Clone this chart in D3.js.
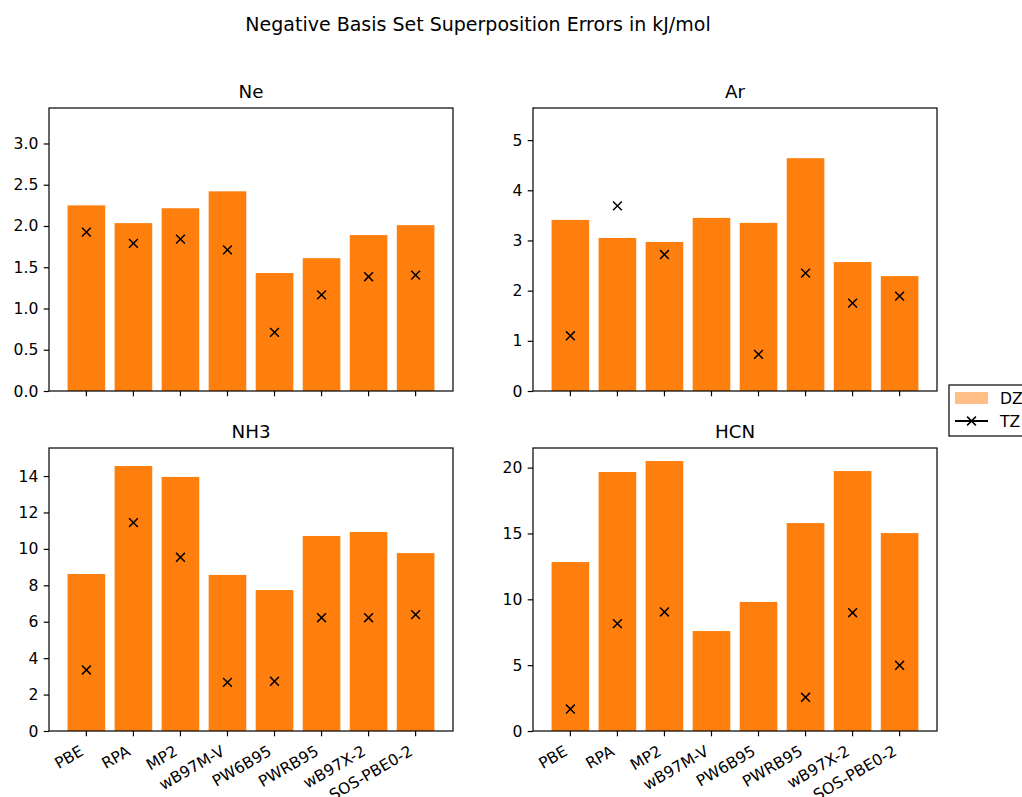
<!DOCTYPE html>
<html>
<head>
<meta charset="utf-8">
<script src="https://cdn.jsdelivr.net/npm/d3@7"></script>
<style>
body { margin: 0; background: #fff; }
svg { font-family: "DejaVu Sans", sans-serif; }
</style>
</head>
<body>
<svg id="chart" width="1022" height="797"></svg>
<script>
// methods on the x axis
var methods = ["PBE", "RPA", "MP2", "wB97M-V", "PW6B95", "PWRB95", "wB97X-2", "SOS-PBE0-2"];

// DZ bars and TZ crosses, per system (null = no TZ point)
var neDZ = [2.25, 2.035, 2.215, 2.42, 1.43, 1.61, 1.89, 2.01];
var neTZ = [1.925, 1.79, 1.84, 1.71, 0.71, 1.165, 1.385, 1.405];
var arDZ = [3.41, 3.05, 2.97, 3.45, 3.35, 4.64, 2.57, 2.29];
var arTZ = [1.10, 3.69, 2.72, null, 0.73, 2.35, 1.75, 1.89];
var nh3DZ = [8.62, 14.55, 13.95, 8.57, 7.74, 10.71, 10.93, 9.77];
var nh3TZ = [3.35, 11.44, 9.54, 2.67, 2.73, 6.22, 6.22, 6.39];
var hcnDZ = [12.83, 19.67, 20.5, 7.59, 9.80, 15.79, 19.74, 15.03];
var hcnTZ = [1.67, 8.15, 9.04, null, null, 2.56, 8.98, 4.99];

// y tick values per panel
var neTicks = [0.0, 0.5, 1.0, 1.5, 2.0, 2.5, 3.0];
var arTicks = [0, 1, 2, 3, 4, 5];
var nh3Ticks = [0, 2, 4, 6, 8, 10, 12, 14];
var hcnTicks = [0, 5, 10, 15, 20];

var svg = d3.select("#chart");
var barColor = "#ff7f0e";
var tickFont = "15.6px";

svg.append("text")
  .attr("x", 478).attr("y", 31)
  .attr("text-anchor", "middle")
  .attr("font-size", "19px")
  .text("Negative Basis Set Superposition Errors in kJ/mol");

var panels = [
  {title: "Ne", dz: neDZ, tz: neTZ, ticks: neTicks, ymax: 3.43, fmt: d3.format(".1f"), left: 49, top: 108, labels: false},
  {title: "Ar", dz: arDZ, tz: arTZ, ticks: arTicks, ymax: 5.64, fmt: d3.format("d"), left: 533, top: 108, labels: false},
  {title: "NH3", dz: nh3DZ, tz: nh3TZ, ticks: nh3Ticks, ymax: 15.54, fmt: d3.format("d"), left: 49, top: 448, labels: true},
  {title: "HCN", dz: hcnDZ, tz: hcnTZ, ticks: hcnTicks, ymax: 21.49, fmt: d3.format("d"), left: 533, top: 448, labels: true}
];

var pw = 404, ph = 283;

panels.forEach(function(p) {
  var g = svg.append("g").attr("transform", "translate(" + p.left + "," + p.top + ")");

  var x = d3.scaleBand()
    .domain(methods)
    .range([0, pw])
    .paddingInner(0.2)
    .paddingOuter(0.395);

  var y = d3.scaleLinear()
    .domain([0, p.ymax])
    .range([ph, 0]);

  g.selectAll("rect.bar")
    .data(p.dz)
    .enter()
    .append("rect")
    .attr("class", "bar")
    .attr("x", function(d, i) { return x(methods[i]); })
    .attr("width", x.bandwidth())
    .attr("y", function(d) { return y(d); })
    .attr("height", function(d) { return ph - y(d); })
    .attr("fill", barColor);

  // TZ crosses
  var s = 4.4;
  var tzPts = p.tz.map(function(d, i) { return {v: d, m: methods[i]}; })
    .filter(function(d) { return d.v !== null; });
  g.selectAll("path.tz")
    .data(tzPts)
    .enter()
    .append("path")
    .attr("class", "tz")
    .attr("d", function(d) {
      var cx = x(d.m) + x.bandwidth() / 2, cy = y(d.v);
      return "M" + (cx - s) + "," + (cy - s) + "L" + (cx + s) + "," + (cy + s) +
             "M" + (cx - s) + "," + (cy + s) + "L" + (cx + s) + "," + (cy - s);
    })
    .attr("stroke", "black")
    .attr("stroke-width", 1.5)
    .attr("fill", "none");

  var yAxis = d3.axisLeft(y)
    .tickValues(p.ticks)
    .tickFormat(p.fmt)
    .tickSize(5.3)
    .tickPadding(5.3);
  var ya = g.append("g").call(yAxis);
  ya.select(".domain").remove();
  ya.selectAll("text").attr("font-size", tickFont).attr("font-family", "DejaVu Sans").attr("fill", "black");
  ya.selectAll("line").attr("stroke-width", 1.2);

  var xAxis = d3.axisBottom(x)
    .tickSize(5.3)
    .tickFormat(p.labels ? null : "");
  var xa = g.append("g").attr("transform", "translate(0," + ph + ")").call(xAxis);
  xa.select(".domain").remove();
  xa.selectAll("line").attr("stroke-width", 1.2);
  xa.selectAll("text")
    .attr("font-size", tickFont)
    .attr("font-family", "DejaVu Sans")
    .attr("fill", "black")
    .attr("text-anchor", "end")
    .attr("dy", null)
    .attr("y", -3.6)
    .attr("transform", "translate(0,26.5) rotate(-30)");

  // frame
  g.append("rect")
    .attr("width", pw).attr("height", ph)
    .attr("fill", "none")
    .attr("stroke", "black")
    .attr("stroke-width", 1.2);

  g.append("text")
    .attr("x", pw / 2).attr("y", -10)
    .attr("text-anchor", "middle")
    .attr("font-size", "18.3px")
    .text(p.title);
});

// legend
var lg = svg.append("g").attr("transform", "translate(949,385)");
lg.append("rect")
  .attr("width", 90).attr("height", 51)
  .attr("fill", "white")
  .attr("stroke", "black")
  .attr("stroke-width", 1.2);
lg.append("rect")
  .attr("x", 6).attr("y", 7).attr("width", 33).attr("height", 12)
  .attr("fill", barColor).attr("opacity", 0.5);
lg.append("text").attr("x", 51).attr("y", 18.5).attr("font-size", tickFont).text("DZ");
lg.append("line")
  .attr("x1", 6).attr("x2", 39).attr("y1", 36).attr("y2", 36)
  .attr("stroke", "black").attr("stroke-width", 2);
lg.append("path")
  .attr("d", "M18.1,31.6L26.9,40.4M18.1,40.4L26.9,31.6")
  .attr("stroke", "black").attr("stroke-width", 1.5);
lg.append("text").attr("x", 51).attr("y", 41.5).attr("font-size", tickFont).text("TZ");
</script>
</body>
</html>
